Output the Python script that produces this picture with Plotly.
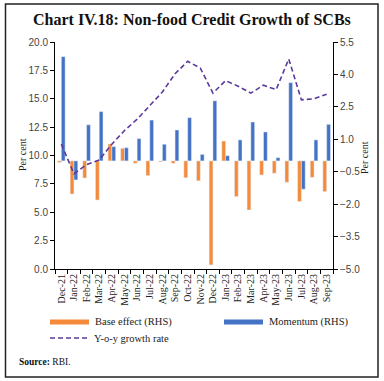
import plotly.graph_objects as go

categories = ["Dec-21", "Jan-22", "Feb-22", "Mar-22", "Apr-22", "May-22", "Jun-22",
              "Jul-22", "Aug-22", "Sep-22", "Oct-22", "Nov-22", "Dec-22", "Jan-23",
              "Feb-23", "Mar-23", "Apr-23", "May-23", "Jun-23", "Jul-23", "Aug-23", "Sep-23"]
base_effect = [-0.07, -1.53, -0.79, -1.81, 0.78, 0.58, -0.11, -0.68, -0.04, -0.11, -0.78,
               -0.92, -4.81, 0.92, -1.65, -2.27, -0.65, -0.57, -0.99, -1.88, -0.76, -1.42]
momentum = [4.82, -0.88, 1.67, 2.28, 0.66, 0.61, 1.03, 1.89, 0.77, 1.43, 2.0,
            0.3, 2.78, 0.24, 0.97, 1.8, 1.34, 0.15, 3.62, -1.31, 0.97, 1.69]
yoy_growth = [11.0, 8.4, 9.2, 9.6, 11.0, 12.2, 13.2, 14.4, 15.6, 17.2, 18.3,
              17.7, 15.5, 16.6, 16.1, 15.5, 16.2, 15.8, 18.5, 14.9, 15.0, 15.4]
left_ticks = [0, 2.5, 5, 7.5, 10, 12.5, 15, 17.5, 20]
right_ticks = [-5.0, -3.5, -2.0, -0.5, 1.0, 2.5, 4.0, 5.5]

ORANGE = "#F48A3A"
BLUE = "#4472C4"
PURPLE = "#5B3A9E"
SERIF = "Liberation Serif"
SANS = "Liberation Sans"

fig = go.Figure()
fig.add_trace(go.Bar(x=categories, y=base_effect, name="Base effect (RHS)",
                     marker_color=ORANGE, yaxis="y"))
fig.add_trace(go.Bar(x=categories, y=momentum, name="Momentum (RHS)",
                     marker_color=BLUE, yaxis="y"))
fig.add_trace(go.Scatter(x=categories, y=yoy_growth, name="Y-o-y growth rate",
                         mode="lines", line=dict(color=PURPLE, width=1.6, dash="5px,3px"),
                         yaxis="y2"))

fig.update_layout(
    width=384, height=381,
    margin=dict(l=55, r=51, t=42, b=112),
    paper_bgcolor="white", plot_bgcolor="white",
    showlegend=False,
    barmode="group", bargap=0.4, bargroupgap=0.0,
    xaxis=dict(type="category", showline=True, linecolor="black", linewidth=1,
               ticks="outside", ticklen=4, tickcolor="black", tickson="boundaries",
               tickangle=-90, tickfont=dict(family=SERIF, size=10, color="#222"),
               showgrid=False, zeroline=False),
    yaxis=dict(side="right", range=[-5, 5.5], tickvals=right_ticks, tickformat=".1f",
               showline=True, linecolor="black", linewidth=1, ticks="outside",
               ticklen=4, tickcolor="black", showgrid=False, zeroline=False,
               tickfont=dict(family=SANS, size=10, color="#444")),
    yaxis2=dict(side="left", overlaying="y", range=[0, 20], tickvals=left_ticks,
                tickformat=".1f", showline=True, linecolor="black", linewidth=1,
                ticks="outside", ticklen=4, tickcolor="black", showgrid=False,
                zeroline=False, tickfont=dict(family=SANS, size=10, color="#444")),
)

def px_x(x):
    return (x - 55) / 278.0

def px_y(y):
    return (269 - y) / 227.0

annotations = [
    dict(text="<b>Chart IV.18: Non-food Credit Growth of SCBs</b>", x=px_x(192), y=px_y(20),
         font=dict(family=SERIF, size=16, color="#111")),
    dict(text="Per cent", x=px_x(22), y=px_y(155), textangle=-90,
         font=dict(family=SERIF, size=10, color="#222")),
    dict(text="Per cent", x=px_x(364), y=px_y(158), textangle=-90,
         font=dict(family=SERIF, size=10, color="#222")),
    dict(text="Base effect (RHS)", x=px_x(93), y=px_y(322), xanchor="left",
         font=dict(family=SERIF, size=10.5, color="#222")),
    dict(text="Momentum (RHS)", x=px_x(267), y=px_y(322), xanchor="left",
         font=dict(family=SERIF, size=10.5, color="#222")),
    dict(text="Y-o-y growth rate", x=px_x(92), y=px_y(338), xanchor="left",
         font=dict(family=SERIF, size=10.5, color="#222")),
    dict(text="<b>Source:</b> RBI.", x=px_x(17), y=px_y(362), xanchor="left",
         font=dict(family=SERIF, size=9.5, color="#111")),
]
for a in annotations:
    a.update(xref="paper", yref="paper", showarrow=False, yanchor=a.get("yanchor", "middle"),
             xanchor=a.get("xanchor", "center"))
    fig.add_annotation(**a)

shapes = [
    dict(type="rect", x0=px_x(5.5), x1=px_x(378), y0=px_y(4), y1=px_y(377),
         line=dict(color="#222", width=1.5), fillcolor="rgba(0,0,0,0)"),
    dict(type="rect", x0=px_x(50), x1=px_x(89), y0=px_y(319.5), y1=px_y(324.5),
         line=dict(width=0), fillcolor=ORANGE),
    dict(type="rect", x0=px_x(224), x1=px_x(263), y0=px_y(319.5), y1=px_y(324.5),
         line=dict(width=0), fillcolor=BLUE),
    dict(type="line", x0=px_x(50), x1=px_x(89), y0=px_y(338), y1=px_y(338),
         line=dict(color=PURPLE, width=1.4, dash="5px,3px")),
]
for s in shapes:
    s.update(xref="paper", yref="paper")
    fig.add_shape(**s)

fig.write_html("out.html", config={"displayModeBar": False},
               post_script="document.body.style.margin='0px';")
